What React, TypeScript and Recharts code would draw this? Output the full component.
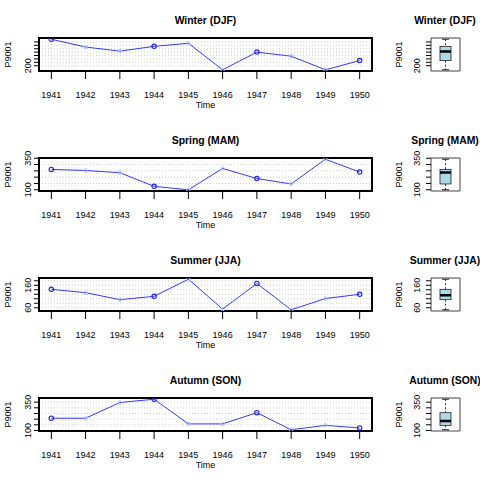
import {
  LineChart,
  Line,
  XAxis,
  YAxis,
  CartesianGrid,
  ReferenceArea,
  ReferenceLine,
  ComposedChart,
  Bar,
} from "recharts";

const years = [1941, 1942, 1943, 1944, 1945, 1946, 1947, 1948, 1949, 1950];

const winter = [590, 475, 415, 485, 530, 140, 400, 340, 140, 275];
const spring = [261, 253, 235, 127, 100, 269, 189, 146, 342, 240];
const summer = [142, 127, 96, 111, 187, 54, 168, 51, 101, 120];
const autumn = [208, 208, 347, 376, 158, 158, 257, 106, 145, 122];

const winterTicks = [200, 250, 300, 350, 400, 450, 500, 550];
const springTicks = [100, 150, 200, 250, 300, 350];
const summerTicks = [60, 80, 100, 120, 140, 160, 180];
const autumnTicks = [100, 150, 200, 250, 300, 350];

const winterLabels = [200];
const springLabels = [100, 350];
const summerLabels = [60, 160];
const autumnLabels = [100, 350];

const titles = ["Winter (DJF)", "Spring (MAM)", "Summer (JJA)", "Autumn (SON)"];

// months after Jan 1941 that got a dotted vertical guide
const guideMonths = [0, 1, 2, 3, 4, 5, 6, 7, 8, 9];

const FONT = "'Liberation Sans', Arial, Helvetica, sans-serif";

// R style 4% padding
function pad(lo: number, hi: number): [number, number] {
  const r = hi - lo;
  return [lo - 0.04 * r, hi + 0.04 * r];
}

// Tukey hinges, like R's fivenum
function fivenum(vals: number[]) {
  const s = [...vals].sort((a, b) => a - b);
  const n = s.length;
  const n4 = Math.floor((n + 3) / 2) / 2;
  const at = (d: number) => 0.5 * (s[Math.floor(d) - 1] + s[Math.ceil(d) - 1]);
  return {
    lo: s[0],
    q1: at(n4),
    med: at((n + 1) / 2),
    q3: at(n + 1 - n4),
    hi: s[n - 1],
  };
}

const xDomain = pad(years[0], years[years.length - 1]);

function Dot(props: any) {
  const { cx, cy, index } = props;
  if (cx == null || cy == null) return <g key={`d${index}`} />;
  if (index % 3 === 0) {
    return (
      <circle key={`d${index}`} cx={cx} cy={cy} r={2.2} fill="none" stroke="#1f1fff" strokeWidth={1.1} />
    );
  }
  return <circle key={`d${index}`} cx={cx} cy={cy} r={1.8} fill="none" stroke="#a9c9ff" strokeWidth={1} />;
}

function makeYTick(labels: number[], shift: number) {
  return (props: any) => {
    const { x, y, payload } = props;
    if (!labels.includes(payload.value)) return <g />;
    const bx = x + shift;
    return (
      <text
        x={bx}
        y={y}
        transform={`rotate(-90 ${bx} ${y})`}
        textAnchor="middle"
        fontSize={9}
        fontFamily={FONT}
        fill="#000"
      >
        {payload.value}
      </text>
    );
  };
}

function XTick(props: any) {
  const { x, y, payload } = props;
  return (
    <text x={x} y={y + 17} textAnchor="middle" fontSize={9} fontFamily={FONT} fill="#000">
      {payload.value}
    </text>
  );
}

function yLabel(bx: number) {
  return (p: any) => {
    const vb = p.viewBox || { x: 0, y: 38, width: 0, height: 33 };
    const x = vb.x + bx;
    const y = vb.y + vb.height / 2;
    return (
      <text x={x} y={y} transform={`rotate(-90 ${x} ${y})`} textAnchor="middle" fontSize={9} fontFamily={FONT} fill="#000">
        P9001
      </text>
    );
  };
}

function timeLabel(p: any) {
  const vb = p.viewBox || { x: 39, y: 71, width: 333, height: 49 };
  return (
    <text x={vb.x + vb.width / 2} y={vb.y + 36.5} textAnchor="middle" fontSize={9} fontFamily={FONT} fill="#000">
      Time
    </text>
  );
}

function BoxShape(props: any) {
  const { x, y, width, height, payload } = props;
  if (x == null || y == null) return <g />;
  const { lo, q1, med, q3, hi } = payload;
  const top = Math.min(y, y + height);
  const h = Math.abs(height);
  const py = (v: number) => top + (h * (hi - v)) / (hi - lo);
  const cx = x + width / 2;
  return (
    <g>
      <line x1={cx} x2={cx} y1={py(hi)} y2={py(q3)} stroke="#000" strokeWidth={0.8} strokeDasharray="2 2" />
      <line x1={cx} x2={cx} y1={py(q1)} y2={py(lo)} stroke="#000" strokeWidth={0.8} strokeDasharray="2 2" />
      <line x1={cx - 3.5} x2={cx + 3.5} y1={py(hi)} y2={py(hi)} stroke="#000" strokeWidth={0.9} />
      <line x1={cx - 3.5} x2={cx + 3.5} y1={py(lo)} y2={py(lo)} stroke="#000" strokeWidth={0.9} />
      <rect x={x} y={py(q3)} width={width} height={py(q1) - py(q3)} fill="#add8e6" stroke="#222" strokeWidth={0.8} />
      <line x1={x} x2={x + width} y1={py(med)} y2={py(med)} stroke="#000" strokeWidth={2.5} />
    </g>
  );
}

interface RowProps {
  values: number[];
  ticks: number[];
  labels: number[];
  top: number;
}

function SeasonRow({ values, ticks, labels, top }: RowProps) {
  const lo = Math.min(...values);
  const hi = Math.max(...values);
  const yDomain = pad(lo, hi);
  const inset = (yDomain[1] - yDomain[0]) * 0.045;
  const data = years.map((year, i) => ({ year, v: values[i] }));
  const stats = fivenum(values);
  const boxData = [{ name: "s", range: [stats.lo, stats.hi], ...stats }];

  return (
    <div style={{ position: "absolute", left: 0, top, width: 480, height: 120 }}>
      <div style={{ position: "absolute", left: 0, top: 0 }}>
        <LineChart width={380} height={120} data={data} margin={{ top: 38, right: 8, bottom: 0, left: 0 }}>
          <CartesianGrid vertical={false} stroke="#cfcfcf" strokeDasharray="1 2" />
          {guideMonths.map((m) => {
            const gx = years[0] + m / 12;
            return (
              <ReferenceLine
                key={m}
                segment={[
                  { x: gx, y: yDomain[0] + inset },
                  { x: gx, y: yDomain[1] - inset },
                ]}
                stroke="#dcdcdc"
                strokeDasharray="1 2"
              />
            );
          })}
          <XAxis
            dataKey="year"
            type="number"
            domain={xDomain}
            ticks={years}
            interval={0}
            allowDataOverflow
            axisLine={false}
            tickLine={{ stroke: "#000" }}
            tickSize={8}
            tick={XTick}
            height={49}
            label={{ value: "Time", content: timeLabel }}
          />
          <YAxis
            type="number"
            domain={yDomain}
            ticks={ticks}
            interval={0}
            allowDataOverflow
            axisLine={false}
            tickLine={{ stroke: "#000" }}
            tickSize={5}
            width={39}
            tick={makeYTick(labels, -1)}
            label={{ value: "P9001", content: yLabel(10.5) }}
          />
          <Line
            dataKey="v"
            stroke="#3838ff"
            strokeWidth={1}
            dot={Dot}
            activeDot={false}
            isAnimationActive={false}
          />
          <ReferenceArea
            x1={xDomain[0]}
            x2={xDomain[1]}
            y1={yDomain[0]}
            y2={yDomain[1]}
            fill="none"
            fillOpacity={0}
            stroke="#000"
            strokeWidth={2}
          />
        </LineChart>
      </div>
      <div style={{ position: "absolute", left: 380, top: 0 }}>
        <ComposedChart width={100} height={120} data={boxData} margin={{ top: 38, right: 20, bottom: 49, left: 0 }}>
          <XAxis dataKey="name" hide />
          <YAxis
            type="number"
            domain={yDomain}
            ticks={ticks}
            interval={0}
            allowDataOverflow
            axisLine={false}
            tickLine={{ stroke: "#000" }}
            tickSize={5}
            width={51}
            tick={makeYTick(labels, -4)}
            label={{ value: "P9001", content: yLabel(21.5) }}
          />
          <Bar dataKey="range" barSize={11} shape={BoxShape} isAnimationActive={false} />
          <ReferenceArea y1={yDomain[0]} y2={yDomain[1]} fill="none" fillOpacity={0} stroke="#444" strokeWidth={1} />
        </ComposedChart>
      </div>
    </div>
  );
}

const rows = [
  { values: winter, ticks: winterTicks, labels: winterLabels },
  { values: spring, ticks: springTicks, labels: springLabels },
  { values: summer, ticks: summerTicks, labels: summerLabels },
  { values: autumn, ticks: autumnTicks, labels: autumnLabels },
];

export default function App() {
  return (
    <div style={{ position: "absolute", left: 0, top: 0, width: 480, height: 480, background: "#fff" }}>
      {rows.map((r, i) => (
        <SeasonRow key={i} values={r.values} ticks={r.ticks} labels={r.labels} top={i * 120} />
      ))}
      <svg width={480} height={480} style={{ position: "absolute", left: 0, top: 0, pointerEvents: "none" }}>
        {titles.map((t, i) => (
          <g key={t}>
            <text x={205.5} y={i * 120 + 24} textAnchor="middle" fontSize={10.4} fontWeight="bold" fontFamily={FONT} fill="#000">
              {t}
            </text>
            <text x={445} y={i * 120 + 24} textAnchor="middle" fontSize={10.4} fontWeight="bold" fontFamily={FONT} fill="#000">
              {t}
            </text>
          </g>
        ))}
      </svg>
    </div>
  );
}
